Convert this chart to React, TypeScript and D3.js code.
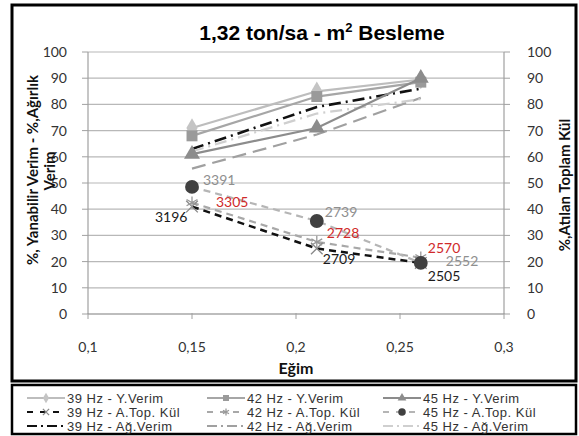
import React from "react";
import * as d3 from "d3";

const xVals = [0.15, 0.21, 0.26];
const yVerim39 = [71, 85, 89.5];
const yVerim42 = [68, 83, 88.5];
const yVerim45 = [61, 71, 90];
const kul39 = [41, 25, 19.5];
const kul42 = [42.5, 27.5, 21.5];
const kul45 = [48.5, 35.5, 19.5];
const agVerim39 = [63, 79, 86];
const agVerim42 = [55.5, 68.5, 82.5];
const agVerim45 = [62, 76.5, 82];
const kulLabels39 = ["3196", "2709", "2505"];
const kulLabels42 = ["3305", "2728", "2570"];
const kulLabels45 = ["3391", "2739", "2552"];
const xTicks = [0.1, 0.15, 0.2, 0.25, 0.3];
const yTicks = [0, 10, 20, 30, 40, 50, 60, 70, 80, 90, 100];
const legendNames = [
  "39 Hz - Y.Verim", "42 Hz - Y.Verim", "45 Hz - Y.Verim",
  "39 Hz - A.Top.  Kül", "42 Hz - A.Top.  Kül", "45 Hz - A.Top.  Kül",
  "39 Hz - Ağ.Verim", "42 Hz - Ağ.Verim", "45 Hz - Ağ.Verim",
];

// label offsets (dx, dy) relative to each point
const off39 = [[-37, 15], [6, 15], [7, 18]];
const off42 = [[24, 4], [10, -4], [7, -5]];
const off45 = [[11, -2], [8, -4], [25, 3]];

const W = 579, H = 436;
const x = d3.scaleLinear().domain([0.1, 0.3]).range([88, 504]);
const y = d3.scaleLinear().domain([0, 100]).range([314, 52]);
const fmt = (d: number) => String(d).replace(".", ",");

type S = {
  name: string; vals: number[]; color: string; width: number; dash?: string;
  marker?: "diamond" | "square" | "triangle" | "circle" | "x" | "asterisk";
  mColor?: string; mSize?: number;
};

const series: S[] = [
  { name: legendNames[0], vals: yVerim39, color: "#bdbdbd", width: 2.2, marker: "diamond", mColor: "#c4c4c4", mSize: 110 },
  { name: legendNames[1], vals: yVerim42, color: "#a6a6a6", width: 2.2, marker: "square", mColor: "#9a9a9a", mSize: 120 },
  { name: legendNames[2], vals: yVerim45, color: "#8c8c8c", width: 2.2, marker: "triangle", mColor: "#8c8c8c", mSize: 110 },
  { name: legendNames[3], vals: kul39, color: "#111", width: 2.5, dash: "7,5", marker: "x", mColor: "#888", mSize: 90 },
  { name: legendNames[4], vals: kul42, color: "#a8a8a8", width: 2.2, dash: "7,5", marker: "asterisk", mColor: "#999", mSize: 110 },
  { name: legendNames[5], vals: kul45, color: "#b5b5b5", width: 2.2, dash: "7,5", marker: "circle", mColor: "#404040", mSize: 150 },
  { name: legendNames[6], vals: agVerim39, color: "#111", width: 2.6, dash: "12,5,2,5" },
  { name: legendNames[7], vals: agVerim42, color: "#a0a0a0", width: 2.2, dash: "14,7" },
  { name: legendNames[8], vals: agVerim45, color: "#cfcfcf", width: 2.2, dash: "12,5,2,5" },
];

const symMap: Record<string, d3.SymbolType> = {
  diamond: d3.symbolDiamond,
  square: d3.symbolSquare,
  triangle: d3.symbolTriangle,
  circle: d3.symbolCircle,
  x: d3.symbolX,
  asterisk: d3.symbolAsterisk,
};

function Marker({ s, cx, cy, scale = 1 }: { s: S; cx: number; cy: number; scale?: number }) {
  if (!s.marker) return null;
  const path = d3.symbol(symMap[s.marker], (s.mSize || 100) * scale)() || "";
  const stroked = s.marker === "x" || s.marker === "asterisk";
  return (
    <path
      d={path}
      transform={`translate(${cx},${cy})`}
      fill={stroked ? "none" : s.mColor}
      stroke={s.mColor}
      strokeWidth={stroked ? 1.3 : 0}
    />
  );
}

const line = d3.line<[number, number]>().x((d) => x(d[0])).y((d) => y(d[1]));

export default function App() {
  const drawOrder = [6, 7, 8, 0, 1, 2, 3, 4, 5];
  const labelSets = [
    { labels: kulLabels39, vals: kul39, off: off39, color: "#1a1a1a" },
    { labels: kulLabels42, vals: kul42, off: off42, color: "#d02a2a" },
    { labels: kulLabels45, vals: kul45, off: off45, color: "#8f8f8f" },
  ];
  const legCols = [67, 247, 423];
  const legRows = [398, 412, 426];
  const tickFont = "Lato, 'Open Sans', sans-serif";
  return (
    <svg width={W} height={H} style={{ position: "absolute", left: 0, top: 0, background: "#fff" }}>
      <rect x={0} y={0} width={W} height={H} fill="#fff" />
      {/* chart frame */}
      <rect x={12} y={5} width={564} height={376} fill="#fff" stroke="#000" strokeWidth={3} />
      {/* title */}
      <text x={322} y={40} textAnchor="middle" fontFamily="'Liberation Sans', Arial, sans-serif" fontWeight="bold" fontSize={21} fill="#000">
        1,32 ton/sa - m<tspan fontSize={13} dy={-8}>2</tspan><tspan dy={8}> Besleme</tspan>
      </text>
      {/* gridlines */}
      {yTicks.map((t) => (
        <line key={"g" + t} x1={x(0.1)} x2={x(0.3)} y1={y(t)} y2={y(t)} stroke="#b8b8b8" strokeWidth={1.2} />
      ))}
      {/* axes */}
      <line x1={x(0.1)} x2={x(0.1)} y1={y(0)} y2={y(100)} stroke="#a0a0a0" strokeWidth={1.2} />
      <line x1={x(0.3)} x2={x(0.3)} y1={y(0)} y2={y(100)} stroke="#a0a0a0" strokeWidth={1.2} />
      <line x1={x(0.1)} x2={x(0.3)} y1={y(0)} y2={y(0)} stroke="#a0a0a0" strokeWidth={1.2} />
      {yTicks.map((t) => (
        <g key={"yt" + t}>
          <line x1={x(0.1) - 6} x2={x(0.1)} y1={y(t)} y2={y(t)} stroke="#a0a0a0" />
          <line x1={x(0.3)} x2={x(0.3) + 6} y1={y(t)} y2={y(t)} stroke="#a0a0a0" />
          <text x={67} y={y(t)} dy="0.35em" textAnchor="end" fontFamily={tickFont} fontSize={14} fill="#333">{t}</text>
          <text x={527} y={y(t)} dy="0.35em" textAnchor="start" fontFamily={tickFont} fontSize={14} fill="#333">{t}</text>
        </g>
      ))}
      {xTicks.map((t) => (
        <g key={"xt" + t}>
          <line x1={x(t)} x2={x(t)} y1={y(0) - 1} y2={y(0) + 5} stroke="#a0a0a0" />
          <text x={x(t)} y={352} textAnchor="middle" fontFamily={tickFont} fontSize={14} fill="#333">{fmt(t)}</text>
        </g>
      ))}
      {/* axis titles */}
      <text transform={`translate(33,170) rotate(-90)`} textAnchor="middle" dy="0.35em" fontFamily={tickFont} fontWeight="bold" fontSize={15} fill="#111">
        %, Yanabilir Verim - %,Ağırlık
      </text>
      <text transform={`translate(50,171) rotate(-90)`} textAnchor="middle" dy="0.35em" fontFamily={tickFont} fontWeight="bold" fontSize={15} fill="#111">
        Verim
      </text>
      <text transform={`translate(565,185) rotate(-90)`} textAnchor="middle" dy="0.35em" fontFamily={tickFont} fontWeight="bold" fontSize={15} fill="#111">
        %,Atılan Toplam Kül
      </text>
      <text x={296} y={374} textAnchor="middle" fontFamily={tickFont} fontWeight="bold" fontSize={16} fill="#111">Eğim</text>
      {/* series lines */}
      {drawOrder.map((i) => {
        const s = series[i];
        const pts = xVals.map((xv, k) => [xv, s.vals[k]] as [number, number]);
        return (
          <path key={"l" + i} d={line(pts) || ""} fill="none" stroke={s.color} strokeWidth={s.width} strokeDasharray={s.dash} />
        );
      })}
      {/* markers */}
      {drawOrder.map((i) => {
        const s = series[i];
        return (
          <g key={"m" + i}>
            {xVals.map((xv, k) => (
              <Marker key={k} s={s} cx={x(xv)} cy={y(s.vals[k])} />
            ))}
          </g>
        );
      })}
      {/* data labels */}
      {labelSets.map((ls, j) => (
        <g key={"lab" + j}>
          {ls.labels.map((lab, k) => (
            <text key={k} x={x(xVals[k]) + ls.off[k][0]} y={y(ls.vals[k]) + ls.off[k][1]} fontFamily={tickFont} fontSize={14} fill={ls.color}>
              {lab}
            </text>
          ))}
        </g>
      ))}
      {/* legend */}
      <rect x={12} y={385} width={564} height={49} fill="#fff" stroke="#000" strokeWidth={2.5} />
      {series.map((s, i) => {
        const col = i % 3, row = Math.floor(i / 3);
        const tx = legCols[col], ty = legRows[row];
        return (
          <g key={"leg" + i}>
            <line x1={tx - 40} x2={tx - 2} y1={ty} y2={ty} stroke={s.color} strokeWidth={s.width * 0.8} strokeDasharray={s.dash ? (row === 1 ? "6,7" : "10,4,2,4") : undefined} />
            <Marker s={s} cx={tx - 21} cy={ty} scale={0.3} />
            <text x={tx} y={ty} dy="0.35em" fontFamily="'Liberation Sans', Arial, sans-serif" fontSize={13} letterSpacing={0.5} fill="#333">{s.name}</text>
          </g>
        );
      })}
    </svg>
  );
}
